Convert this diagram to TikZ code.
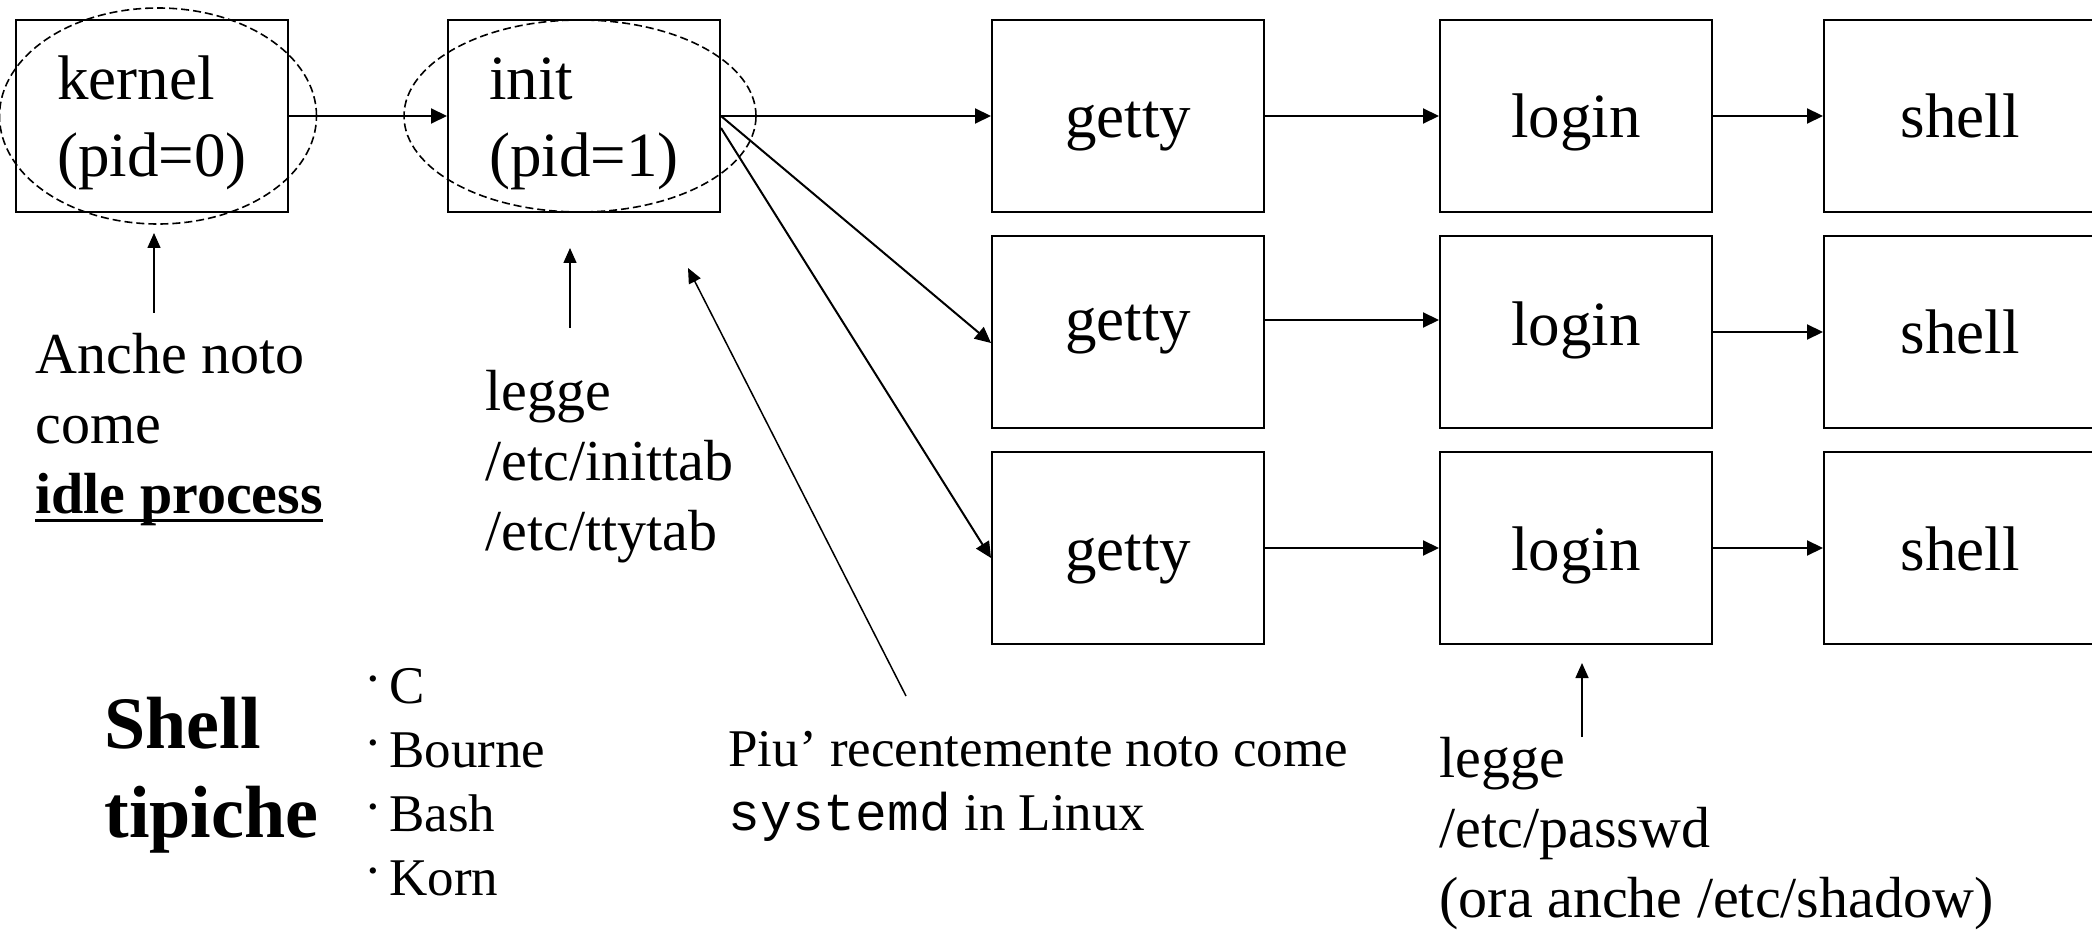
\documentclass[tikz,border=0pt]{standalone}
\usepackage{fontspec}
\setmainfont{Liberation Serif}
\setmonofont{Liberation Mono}
\usetikzlibrary{arrows.meta,shapes.geometric}

\newcommand\procfont{\fontsize{31.5pt}{38.5pt}\selectfont}
\newcommand\notefont{\fontsize{29pt}{35pt}\selectfont}
\newcommand\smallnotefont{\fontsize{26.5pt}{32pt}\selectfont}
\newcommand\titlefont{\fontsize{37pt}{44.5pt}\selectfont\bfseries}
\newcommand\undl[1]{\setbox0\hbox{#1}\rlap{\rule[-4.25pt]{\wd0}{1.5pt}}\box0}
\newcommand\bul{\raisebox{.12em}{·}\hspace{.14em}}

\begin{document}
\begin{tikzpicture}[
    x=0.5pt, y=-0.5pt,
    procbox/.style={draw, line width=1pt, minimum width=136pt, minimum height=96pt,
        inner sep=0pt, font=\procfont},
    proc/.style={procbox, text height=22pt, text depth=0pt},
    ring/.style={draw, dash pattern=on 4pt off 2pt, line width=0.8pt, ellipse, inner sep=0pt},
    fork/.style={-{Triangle[length=8pt,width=7.5pt]}, line width=1pt},
    note/.style={-{Triangle[length=7.5pt,width=6.5pt]}, line width=0.75pt},
    notetext/.style={anchor=base west, align=left, inner sep=0pt}
]
\useasboundingbox (0,0) rectangle (2092,930);

% processi
\node[procbox, align=left, text height=61pt, text depth=0pt] (kernel) at (152,116) {kernel\\(pid=0)};
\node[procbox, align=left, text height=61pt, text depth=0pt, right of=kernel, node distance=216pt] (init) {init\\(pid=1)};
\node[proc, right of=init, node distance=272pt] (getty1) {getty};
\node[proc, right of=getty1, node distance=224pt] (login1) {login};
\node[proc, right of=login1, node distance=192pt] (shell1) {shell};
\node[proc, below of=getty1, node distance=108pt, text height=9pt] (getty2) {getty};
\node[proc, below of=login1, node distance=108pt, text height=14pt] (login2) {login};
\node[proc, below of=shell1, node distance=108pt] (shell2) {shell};
\node[proc, below of=getty2, node distance=108pt] (getty3) {getty};
\node[proc, below of=login2, node distance=108pt] (login3) {login};
\node[proc, below of=shell2, node distance=108pt] (shell3) {shell};

\node[ring, minimum width=158.5pt, minimum height=108pt] (kernelring) at ([xshift=3pt]kernel.center) {};
\node[ring, minimum width=176pt, minimum height=96pt] (initring) at ([xshift=-2pt]init.center) {};

\draw[fork] (kernel) -- (init);
\draw[fork] (init) -- (getty1);
\draw[fork] (init.east) -- ([yshift=-5.5pt]getty2.west);
\draw[fork] ([yshift=-6pt]init.east) -- ([yshift=-5pt]getty3.west);
\draw[fork] (getty1) -- (login1);
\draw[fork] ([yshift=6pt]getty2.east) -- ([yshift=6pt]login2.west);
\draw[fork] (getty3) -- (login3);
\draw[fork] (login1) -- (shell1);
\draw[fork] (login2) -- (shell2);
\draw[fork] (login3) -- (shell3);

% note
\node[notetext, font=\notefont] (kernelnote) at (35,513) {Anche noto\\come\\\textbf{\undl{idle process}}};
\node[notetext, font=\notefont] (initnote) at (485,550) {legge\\/etc/inittab\\/etc/ttytab};
\node[notetext, font=\smallnotefont] (systemdnote) at (728,830) {Piu’ recentemente noto come\\\texttt{systemd} in Linux};
\node[notetext, font=\notefont] (loginnote) at (1439,917) {legge\\/etc/passwd\\(ora anche /etc/shadow)};
\node[notetext, font=\titlefont] (shelltitle) at (104,837) {Shell\\tipiche};
\node[notetext, font=\smallnotefont] (shelllist) at (364,895) {\bul C\\\bul Bourne\\\bul Bash\\\bul Korn};

\coordinate (kerneltail) at (154,313);
\coordinate (inittail) at (570,328);
\coordinate (logintail) at (1582,737);
\coordinate (systemdtail) at (906,696);
\coordinate (systemdtip) at (688,268);
\draw[note, shorten >=10pt] (kerneltail) -- (kerneltail |- kernel.south);
\draw[note, shorten >=17.5pt] (inittail) -- (inittail |- init.south);
\draw[note, shorten >=9pt] (logintail) -- (logintail |- login3.south);
\draw[note] (systemdtail) -- (systemdtip);

\end{tikzpicture}
\end{document}
